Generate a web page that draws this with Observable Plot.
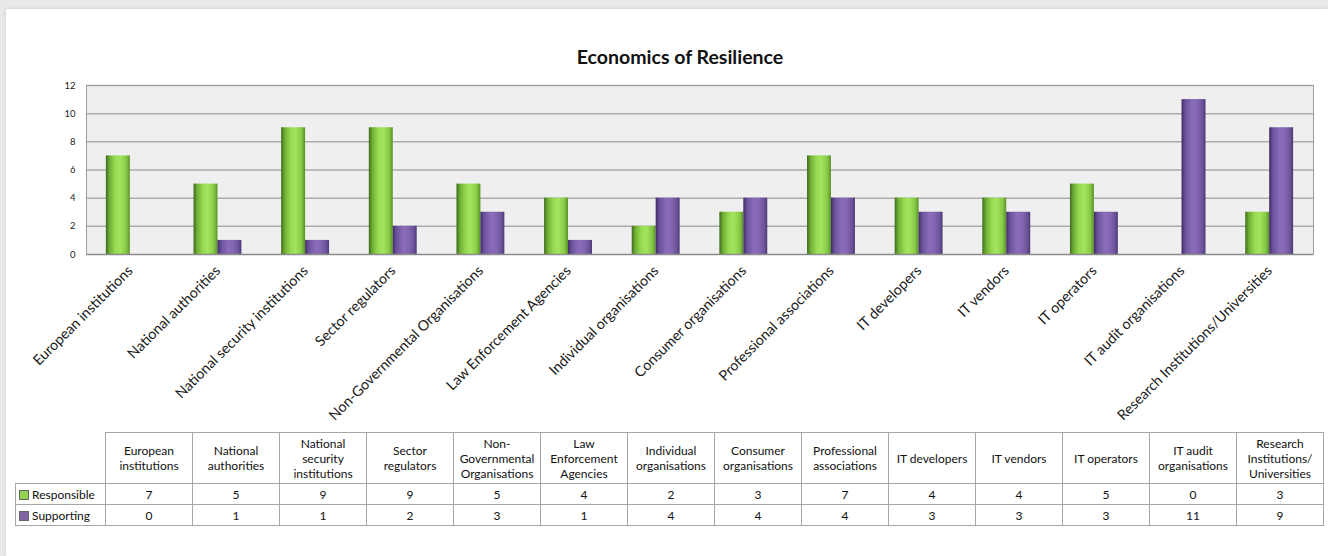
<!DOCTYPE html>
<html>
<head>
<meta charset="utf-8">
<script src="https://cdn.jsdelivr.net/npm/d3@7"></script>
<script src="https://cdn.jsdelivr.net/npm/@observablehq/plot@0.6"></script>
<style>
  html, body { margin: 0; padding: 0; }
  body { width: 1328px; height: 556px; background: #e9e9e9; position: relative; overflow: hidden; font-family: Lato, "Open Sans", sans-serif; }
  #panel { position: absolute; left: 6px; top: 9px; width: 1322px; height: 547px; background: #fff; box-shadow: 0 0 4px rgba(0,0,0,0.12); }
  #title { position: absolute; left: 0; top: 45px; width: 1360px; text-align: center; font-weight: bold; font-size: 19.5px; color: #111; }
  #chart { position: absolute; left: 0; top: 70px; }
  #tbl { position: absolute; left: 15px; top: 432px; border-collapse: collapse; font-size: 12px; color: #111; table-layout: fixed; }
  #tbl td { border: 1px solid #a6a6a6; text-align: center; padding: 0; line-height: 15px; }
  #tbl tr.head td { height: 50px; }
  #tbl tr.data td { height: 20px; }
  #tbl td.blank { border: none; }
  #tbl td.leg { text-align: left; padding-left: 3px; white-space: nowrap; }
  .sw { display: inline-block; width: 8px; height: 8px; border: 1px solid #666; margin-right: 3px; vertical-align: -1px; }
</style>
</head>
<body>
<div id="panel"></div>
<div id="title">Economics of Resilience</div>
<div id="chart"></div>
<table id="tbl"></table>
<script>
const categories = [
  "European institutions", "National authorities", "National security institutions",
  "Sector regulators", "Non-Governmental Organisations", "Law Enforcement Agencies",
  "Individual organisations", "Consumer organisations", "Professional associations",
  "IT developers", "IT vendors", "IT operators", "IT audit organisations",
  "Research Institutions/Universities"
];
const tableLabels = [
  "European\ninstitutions", "National\nauthorities", "National\nsecurity\ninstitutions",
  "Sector\nregulators", "Non-\nGovernmental\nOrganisations", "Law\nEnforcement\nAgencies",
  "Individual\norganisations", "Consumer\norganisations", "Professional\nassociations",
  "IT developers", "IT vendors", "IT operators", "IT audit\norganisations",
  "Research\nInstitutions/\nUniversities"
];
const seriesNames = ["Responsible", "Supporting"];
const responsible = [7, 5, 9, 9, 5, 4, 2, 3, 7, 4, 4, 5, 0, 3];
const supporting  = [0, 1, 1, 2, 3, 1, 4, 4, 4, 3, 3, 3, 11, 9];
const yTicks = [0, 2, 4, 6, 8, 10, 12];
const swatchColors = ["#92d050", "#8064a2"];

const rows = categories.flatMap((c, i) => [
  {cat: c, series: seriesNames[0], value: responsible[i]},
  {cat: c, series: seriesNames[1], value: supporting[i]}
]);

const svg = Plot.plot({
  width: 1328,
  height: 362,
  marginLeft: 86,
  marginRight: 15,
  marginTop: 15,
  marginBottom: 178,
  style: {fontFamily: "Lato, 'Open Sans', sans-serif", color: "#1a1a1a", background: "transparent"},
  fx: {domain: categories, padding: 0, round: false},
  x: {domain: seriesNames, paddingInner: 0, paddingOuter: 0.83, round: false, axis: null},
  y: {domain: [0, 12]},
  marks: [
    Plot.frame({fill: "#efefef", facet: "super"}),
    Plot.gridY(yTicks.filter(t => t > 0), {stroke: "#ababab", strokeOpacity: 1, strokeWidth: 1.5}),
    Plot.barY(rows.filter(d => d.series === seriesNames[0]), {fx: "cat", x: "series", y: "value", fill: "url(#gGreen)"}),
    Plot.barY(rows.filter(d => d.series === seriesNames[1]), {fx: "cat", x: "series", y: "value", fill: "url(#gPurple)"}),
    Plot.frame({stroke: "#a0a0a0", facet: "super"}),
    Plot.ruleY([0], {stroke: "#8a8a8a", strokeWidth: 1.5}),
    Plot.axisY({ticks: yTicks, tickSize: 0, tickPadding: 11, fontSize: 9.5, label: null}),
    Plot.axisFx({anchor: "bottom", tickRotate: -45, tickSize: 0, tickPadding: 14, fontSize: 14.3, label: null})
  ]
});

const ns = "http://www.w3.org/2000/svg";
const defs = document.createElementNS(ns, "defs");
function grad(id, stops) {
  const g = document.createElementNS(ns, "linearGradient");
  g.setAttribute("id", id);
  g.setAttribute("x1", "0"); g.setAttribute("x2", "1");
  g.setAttribute("y1", "0"); g.setAttribute("y2", "0");
  for (const [o, c] of stops) {
    const s = document.createElementNS(ns, "stop");
    s.setAttribute("offset", o);
    s.setAttribute("stop-color", c);
    g.appendChild(s);
  }
  defs.appendChild(g);
}
grad("gGreen", [[0, "#3f6a1c"], [0.15, "#6fae35"], [0.4, "#98dc52"], [0.6, "#a3e45c"], [0.85, "#86c946"], [1, "#5a9028"]]);
grad("gPurple", [[0, "#3f2b62"], [0.15, "#6b519a"], [0.45, "#8a6dba"], [0.65, "#8467b2"], [0.88, "#6c5399"], [1, "#4c3774"]]);
svg.insertBefore(defs, svg.firstChild);
document.getElementById("chart").appendChild(svg);

// table built from the same arrays
const tbl = document.getElementById("tbl");
const colgroup = document.createElement("colgroup");
const c0 = document.createElement("col"); c0.style.width = "90px"; colgroup.appendChild(c0);
categories.forEach(() => { const c = document.createElement("col"); c.style.width = "87px"; colgroup.appendChild(c); });
tbl.appendChild(colgroup);
const head = document.createElement("tr"); head.className = "head";
const blank = document.createElement("td"); blank.className = "blank"; head.appendChild(blank);
tableLabels.forEach(l => {
  const td = document.createElement("td");
  l.split("\n").forEach((line, j) => { if (j) td.appendChild(document.createElement("br")); td.appendChild(document.createTextNode(line)); });
  head.appendChild(td);
});
tbl.appendChild(head);
[responsible, supporting].forEach((vals, si) => {
  const tr = document.createElement("tr"); tr.className = "data";
  const td0 = document.createElement("td"); td0.className = "leg";
  const sw = document.createElement("span"); sw.className = "sw"; sw.style.background = swatchColors[si];
  td0.appendChild(sw); td0.appendChild(document.createTextNode(seriesNames[si]));
  tr.appendChild(td0);
  vals.forEach(v => { const td = document.createElement("td"); td.textContent = v; tr.appendChild(td); });
  tbl.appendChild(tr);
});
</script>
</body>
</html>
